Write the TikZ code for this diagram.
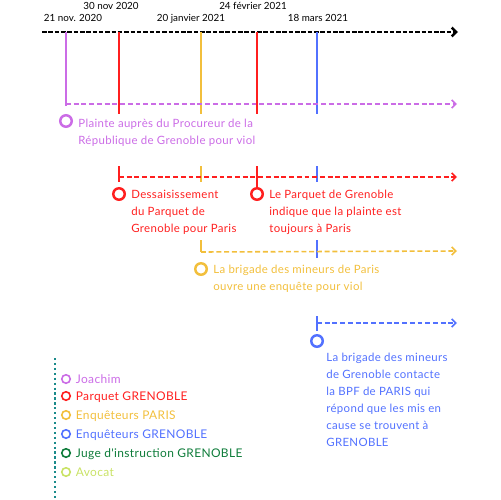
\documentclass[tikz,border=0pt]{standalone}
\usepackage{fontspec}
\setmainfont{Lato}
\newfontfamily\evfont{Lato}[LetterSpace=3]
\usetikzlibrary{arrows.meta,positioning}

\definecolor{joachim}{HTML}{CB6CE6}
\definecolor{parquet}{HTML}{FF1F1F}
\definecolor{paris}{HTML}{F2BF3C}
\definecolor{grenoble}{HTML}{5271FF}
\definecolor{juge}{HTML}{0E7C3A}
\definecolor{avocat}{HTML}{C9E265}
\definecolor{legendline}{HTML}{1A8A8A}

\tikzset{
  timeline/.style={line width=1.4pt, dash pattern=on 2.6pt off 1pt, -{Straight Barb[length=2.6pt,width=5pt]}},
  vline/.style={#1, line width=1.1pt},
  row/.style={#1, line width=0.9pt, dash pattern=on 2.8pt off 1.6pt, -{Straight Barb[length=2.4pt,width=4.6pt]}},
  ring/.style={circle, draw=#1, line width=1.4pt, minimum size=0.23cm, inner sep=0pt},
  smallring/.style={circle, draw=#1, line width=0.9pt, minimum size=0.17cm, inner sep=0pt},
  evtext/.style={text=#1, align=left, anchor=north west, inner sep=0pt,
    font=\evfont\fontsize{6.5}{9.7}\selectfont},
  date/.style={inner sep=0pt, text height=4.2pt, text depth=0pt, font=\fontsize{5.6}{6}\selectfont},
  lgtext/.style={text=#1, inner sep=0pt, anchor=west, text height=4.8pt, text depth=0pt,
    font=\evfont\fontsize{6.8}{7}\selectfont}
}

\begin{document}
\begin{tikzpicture}[x=0.02cm, y=-0.02cm]
  \useasboundingbox (0,0) rectangle (500,500);

  % Timeline
  \coordinate (tl0) at (42,32);
  \coordinate (tl1) at (458,32);
  \draw[timeline] (tl0) -- (tl1);
  \coordinate (t1) at (66,32);
  \coordinate (t2) at (119,32);
  \coordinate (t3) at (201,32);
  \coordinate (t4) at (257,32);
  \coordinate (t5) at (317,32);

  % Dates
  \node[date] (d1) at (73,18) {21 nov. 2020};
  \node[date] (d2) at (111,6) {30 nov 2020};
  \node[date] (d3) at (191,18) {20 janvier 2021};
  \node[date] (d4) at (253,6) {24 février 2021};
  \node[date] (d5) at (318,18) {18 mars 2021};

  % Lines down from the timeline
  \coordinate (j0) at (66,106);
  \coordinate (p0) at (119,114);
  \coordinate (e0) at (201,114);
  \coordinate (i0) at (257,114);
  \coordinate (g0) at (317,114);
  \draw[vline=joachim] (t1) -- (j0);
  \draw[vline=parquet] (t2) -- (p0);
  \draw[vline=paris] (t3) -- (e0);
  \draw[vline=parquet] (t4) -- (i0);
  \draw[vline=grenoble] (t5) -- (g0);

  % Joachim
  \coordinate (jr0) at (66,104);
  \coordinate (jr1) at (457,104);
  \draw[row=joachim] (jr0) -- (jr1);
  \node[ring=joachim] (plainte) at (66,121) {};
  \node[evtext=joachim] (plainteTxt) at (78,119)
    {Plainte auprès du Procureur de la\\République de Grenoble pour viol};

  % Parquet Grenoble
  \coordinate (p1) at (119,166);
  \coordinate (p2) at (119,182);
  \coordinate (i1) at (257,166);
  \coordinate (pr0) at (119,177);
  \coordinate (pr1) at (457,177);
  \draw[vline=paris] (201,166) -- (201,182);
  \draw[vline=grenoble] (317,166) -- (317,182);
  \draw[row=parquet] (pr0) -- (pr1);
  \node[ring=parquet] (dessais) at (119,194) {};
  \node[ring=parquet] (toujours) at (257,194) {};
  \draw[vline=parquet] (p1) -- (p2);
  \draw[vline=parquet] (i1) -- (toujours);
  \node[evtext=parquet] (dessaisTxt) at (131,190)
    {Dessaisissement\\du Parquet de\\Grenoble pour Paris};
  \node[evtext=parquet] (toujoursTxt) at (269,190)
    {Le Parquet de Grenoble\\indique que la plainte est\\toujours à Paris};

  % Enqueteurs Paris
  \coordinate (e1) at (201,240);
  \coordinate (e2) at (201,252);
  \coordinate (er1) at (457,251);
  \draw[vline=grenoble] (317,240) -- (317,258);
  \draw[vline=paris] (e1) -- (e2);
  \draw[row=paris] (e2) -- (er1);
  \node[ring=paris] (brigade) at (201,269) {};
  \node[evtext=paris] (brigadeTxt) at (213,265)
    {La brigade des mineurs de Paris\\ouvre une enquête pour viol};

  % Enqueteurs Grenoble
  \coordinate (g1) at (317,316);
  \coordinate (g2) at (317,331);
  \coordinate (gr0) at (317,323);
  \coordinate (gr1) at (457,323);
  \draw[vline=grenoble] (g1) -- (g2);
  \draw[row=grenoble] (gr0) -- (gr1);
  \node[ring=grenoble] (bpf) at (317,341) {};
  \node[evtext=grenoble] (bpfTxt) at (326,353)
    {La brigade des mineurs\\de Grenoble contacte\\la BPF de PARIS qui\\répond que les mis en\\cause se trouvent à\\GRENOBLE};

  % Legend
  \draw[legendline, line width=1.3pt, dash pattern=on 1.3pt off 1.5pt] (55,358) -- (55,498);
  \node[smallring=joachim] (lg1) at (66,379) {};
  \node[smallring=parquet] (lg2) at (66,396) {};
  \node[smallring=paris] (lg3) at (66,415) {};
  \node[smallring=grenoble] (lg4) at (66,434) {};
  \node[smallring=juge] (lg5) at (66,453) {};
  \node[smallring=avocat] (lg6) at (66,472) {};
  \node[lgtext=joachim, right=0.09cm of lg1] (lg1Txt) {Joachim};
  \node[lgtext=parquet, right=0.09cm of lg2] (lg2Txt) {Parquet GRENOBLE};
  \node[lgtext=paris, right=0.09cm of lg3] (lg3Txt) {Enquêteurs PARIS};
  \node[lgtext=grenoble, right=0.09cm of lg4] (lg4Txt) {Enquêteurs GRENOBLE};
  \node[lgtext=juge, right=0.09cm of lg5] (lg5Txt) {Juge d'instruction GRENOBLE};
  \node[lgtext=avocat, right=0.09cm of lg6] (lg6Txt) {Avocat};
\end{tikzpicture}
\end{document}
